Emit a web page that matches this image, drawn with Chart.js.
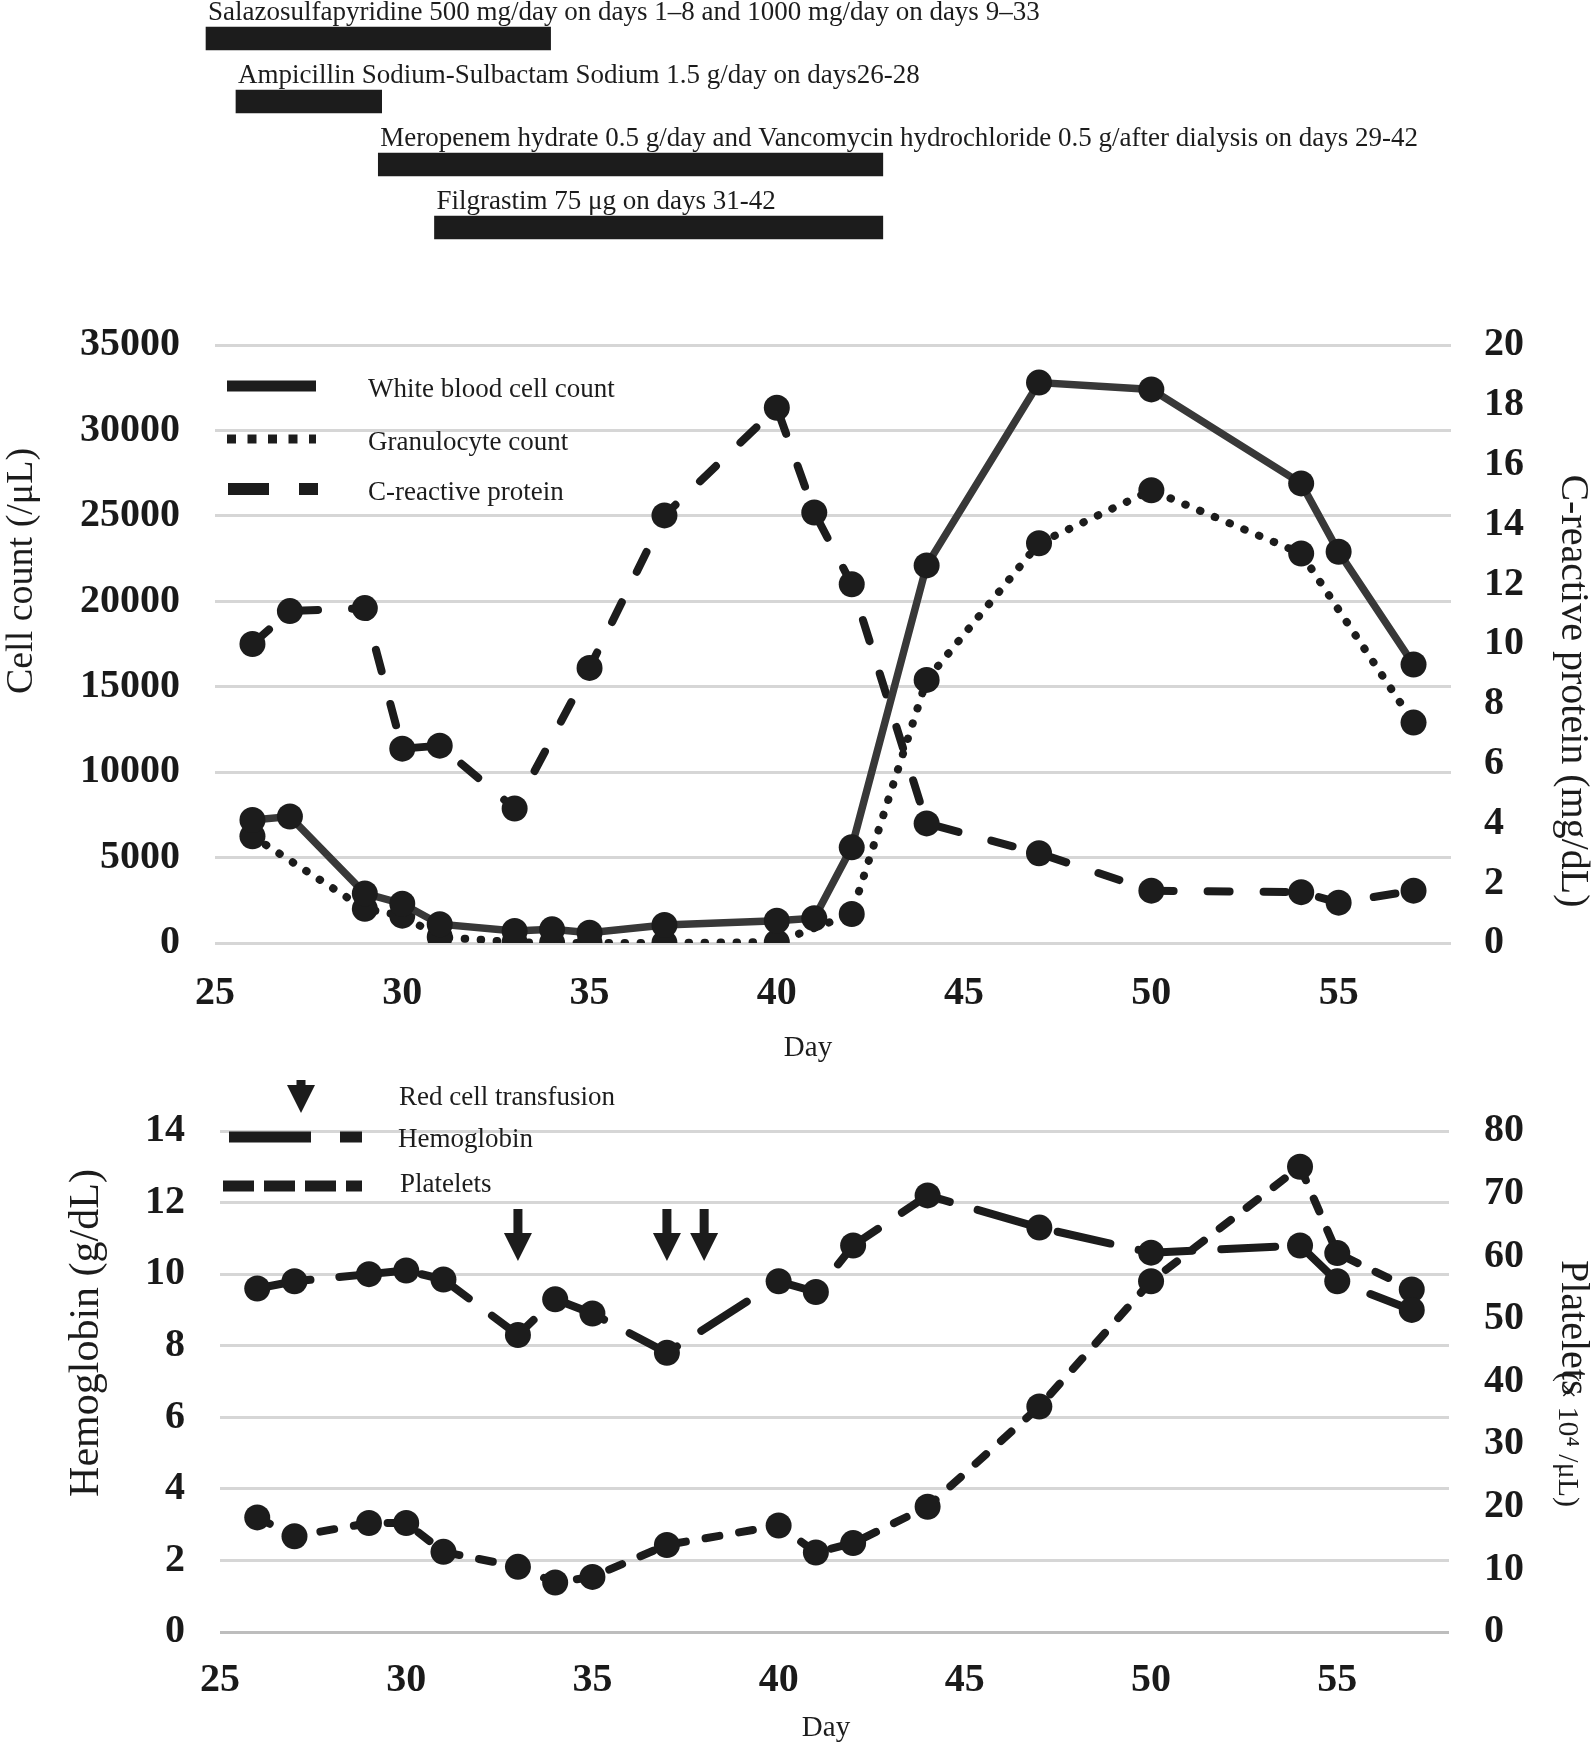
<!DOCTYPE html>
<html>
<head>
<meta charset="utf-8">
<script src="https://cdn.jsdelivr.net/npm/chart.js@4.4.1/dist/chart.umd.min.js"></script>
<style>
body { margin: 0; background: #fff; }
#wrap { position: relative; width: 1592px; height: 1748px; background: #fff; overflow: hidden; }
canvas { position: absolute; left: 0; }
</style>
</head>
<body>
<div id="wrap">
  <canvas id="drugs" width="1592" height="262" style="top:0px"></canvas>
  <canvas id="cells" width="1592" height="820" style="top:260px"></canvas>
  <canvas id="blood" width="1592" height="668" style="top:1080px"></canvas>
</div>
<script>
// ---- data ----
var drugLabels = [
    'Salazosulfapyridine 500 mg/day on days 1\u20138 and 1000 mg/day on days 9\u201333',
    'Ampicillin Sodium-Sulbactam Sodium 1.5 g/day on days26-28',
    'Meropenem hydrate 0.5 g/day and Vancomycin hydrochloride 0.5 g/after dialysis on days 29-42',
    'Filgrastim 75 \u03bcg on days 31-42'
];
var drugRanges = [[24.76, 33.96], [25.56, 29.45], [29.36, 42.83], [30.86, 42.83]];

var xTicks = [25, 30, 35, 40, 45, 50, 55];

var wbcDays = [26, 27, 29, 30, 31, 33, 34, 35, 37, 40, 41, 42, 44, 47, 50, 54, 55, 57];
var wbcCount = [7200, 7400, 2900, 2300, 1100, 700, 800, 600, 1050, 1300, 1450, 5600, 22100, 32800, 32400, 26900, 22900, 16300];

var granDays = [26, 29, 30, 31, 33, 34, 35, 37, 40, 42, 44, 47, 50, 54, 57];
var granCount = [6250, 2000, 1600, 350, 50, 0, 0, 0, 50, 1700, 15400, 23400, 26500, 22800, 12900];

var crpDays = [26, 27, 29, 30, 31, 33, 35, 37, 40, 41, 42, 44, 47, 50, 54, 55, 57];
var crpValues = [10.0, 11.1, 11.2, 6.5, 6.6, 4.5, 9.2, 14.3, 17.9, 14.4, 12.0, 4.0, 3.0, 1.75, 1.7, 1.35, 1.75];

var cellTicks = [0, 5000, 10000, 15000, 20000, 25000, 30000, 35000];
var crpTicks = [0, 2, 4, 6, 8, 10, 12, 14, 16, 18, 20];

var bloodDays = [26, 27, 29, 30, 31, 33, 34, 35, 37, 40, 41, 42, 44, 47, 50, 54, 55, 57];
var hemoglobin = [9.6, 9.8, 10.0, 10.1, 9.85, 8.3, 9.3, 8.9, 7.8, 9.8, 9.5, 10.8, 12.2, 11.3, 10.6, 10.8, 9.8, 9.0];
var platelets = [18.3, 15.3, 17.4, 17.4, 12.8, 10.4, 7.9, 8.8, 13.9, 17.0, 12.7, 14.2, 20.0, 36.0, 56.0, 74.3, 60.5, 54.7];

var hbTicks = [0, 2, 4, 6, 8, 10, 12, 14];
var pltTicks = [0, 10, 20, 30, 40, 50, 60, 70, 80];

var transfusionDays = [33, 37, 38];

// ---- helpers ----
var serif = "'Liberation Serif', 'Times New Roman', serif";
Chart.defaults.font.family = serif;
Chart.defaults.color = '#1a1a1a';

var ink = '#1c1c1c';
var tickFont = { size: 40, weight: 'bold', lineHeight: 1.2 };

function points(days, vals) {
    return days.map(function(d, i) { return { x: d, y: vals[i] }; });
}
function setTicks(list) {
    return function(scale) { scale.ticks = list.map(function(v) { return { value: v }; }); };
}
function fixWidth(w) { return function(scale) { scale.width = w; }; }
function fixHeight(h) { return function(scale) { scale.height = h; }; }
function plain(v) { return String(v); }

// vertical axis: label gap is made with an invisible tick mark so it does not push the plot down
function valueAxis(pos, max, list, width, gap, gridOpts) {
    var grid = Object.assign({ display: false }, gridOpts || {});
    grid.drawTicks = true;
    grid.tickLength = gap - 3;
    grid.tickColor = 'rgba(0,0,0,0)';
    return {
        position: pos, min: 0, max: max,
        afterBuildTicks: setTicks(list), afterFit: fixWidth(width),
        grid: grid, border: { display: false },
        ticks: { padding: 3, font: tickFont, autoSkip: false, callback: plain }
    };
}
function dayAxis(height, gap) {
    return {
        type: 'linear', min: 25, max: 58,
        afterBuildTicks: setTicks(xTicks), afterFit: fixHeight(height),
        grid: { display: false }, border: { display: false },
        ticks: { padding: gap, font: tickFont, maxRotation: 0, autoSkip: false, callback: plain }
    };
}

function text(ctx, str, x, y, size, rot, align, baseline) {
    ctx.save();
    ctx.font = size + 'px ' + serif;
    ctx.fillStyle = ink;
    ctx.textAlign = align || 'left';
    ctx.textBaseline = baseline || 'alphabetic';
    ctx.translate(x, y);
    if (rot) ctx.rotate(rot);
    ctx.fillText(str, 0, 0);
    ctx.restore();
}
function sample(ctx, x0, x1, y, width, dash) {
    ctx.save();
    ctx.strokeStyle = ink;
    ctx.lineWidth = width;
    ctx.lineCap = 'butt';
    ctx.setLineDash(dash);
    ctx.beginPath();
    ctx.moveTo(x0, y);
    ctx.lineTo(x1, y);
    ctx.stroke();
    ctx.restore();
}
function arrow(ctx, x, top, tip) {
    ctx.save();
    ctx.fillStyle = ink;
    ctx.fillRect(x - 4.5, top, 9, tip - top - 26);
    ctx.beginPath();
    ctx.moveTo(x - 14, tip - 28);
    ctx.lineTo(x + 14, tip - 28);
    ctx.lineTo(x, tip);
    ctx.closePath();
    ctx.fill();
    ctx.restore();
}

function lineSet(label, data, axis, color, width, dash) {
    return {
        label: label,
        data: data,
        yAxisID: axis,
        borderColor: color,
        borderWidth: width,
        borderDash: dash,
        borderCapStyle: 'round',
        tension: 0,
        pointRadius: 13,
        pointHoverRadius: 13,
        pointBorderWidth: 0,
        pointBackgroundColor: ink
    };
}

// ---- treatment bars ----
new Chart(document.getElementById('drugs').getContext('2d'), {
    type: 'bar',
    data: {
        labels: drugLabels,
        datasets: [{ data: drugRanges, backgroundColor: ink, barThickness: 23, clip: false }]
    },
    options: {
        indexAxis: 'y',
        responsive: false,
        animation: false,
        layout: { padding: { top: 7, left: 215, right: 141, bottom: 3 } },
        plugins: { legend: { display: false }, tooltip: { enabled: false } },
        scales: {
            x: { type: 'linear', min: 25, max: 58, display: false },
            y: { display: false }
        }
    },
    plugins: [{
        id: 'drugText',
        afterDatasetsDraw: function(chart) {
            var ctx = chart.ctx;
            chart.getDatasetMeta(0).data.forEach(function(bar, i) {
                var left = Math.min(bar.x, bar.base);
                text(ctx, drugLabels[i], left + 2, bar.y - bar.height / 2 - 7, 27);
            });
        }
    }]
});

// ---- cell counts / CRP ----
new Chart(document.getElementById('cells').getContext('2d'), {
    type: 'line',
    data: {
        datasets: [
            lineSet('White blood cell count', points(wbcDays, wbcCount), 'y', '#383838', 7.5, []),
            lineSet('Granulocyte count', points(granDays, granCount), 'y', ink, 8, [0.5, 15.5]),
            lineSet('C-reactive protein', points(crpDays, crpValues), 'y1', ink, 8, [22, 34])
        ]
    },
    options: {
        responsive: false,
        animation: false,
        layout: { padding: { top: 85, left: 0, right: 0, bottom: 0 } },
        plugins: { legend: { display: false }, tooltip: { enabled: false } },
        scales: {
            x: dayAxis(137, 19),
            y: valueAxis('left', 35000, cellTicks, 215, 35, { display: true, color: '#d6d6d6', lineWidth: 3 }),
            y1: valueAxis('right', 20, crpTicks, 141, 33)
        }
    },
    plugins: [{
        id: 'cellsText',
        afterDraw: function(chart) {
            var ctx = chart.ctx, a = chart.chartArea, off = 260;
            text(ctx, 'Cell count (/\u03bcL)', 22, 571 - off, 38, -Math.PI / 2, 'center', 'middle');
            text(ctx, 'C-reactive protein (mg/dL)', 1572, 691 - off, 40, Math.PI / 2, 'center', 'middle');
            text(ctx, 'Day', 808, 1048 - off, 29, 0, 'center', 'middle');
            // legend
            sample(ctx, a.left + 12, a.left + 101, a.top + 41, 11, []);
            sample(ctx, a.left + 12, a.left + 101, a.top + 94, 9, [9, 11.5]);
            sample(ctx, a.left + 13, a.left + 103, a.top + 144, 12, [41, 30]);
            text(ctx, 'White blood cell count', a.left + 153, a.top + 52, 27);
            text(ctx, 'Granulocyte count', a.left + 153, a.top + 105, 27);
            text(ctx, 'C-reactive protein', a.left + 153, a.top + 155, 27);
        }
    }]
});

// ---- hemoglobin / platelets ----
new Chart(document.getElementById('blood').getContext('2d'), {
    type: 'line',
    data: {
        datasets: [
            lineSet('Hemoglobin', points(bloodDays, hemoglobin), 'y', ink, 8, [54, 29]),
            lineSet('Platelets', points(bloodDays, platelets), 'y1', ink, 8, [14, 20])
        ]
    },
    options: {
        responsive: false,
        animation: false,
        layout: { padding: { top: 51, left: 0, right: 0, bottom: 0 } },
        plugins: { legend: { display: false }, tooltip: { enabled: false } },
        scales: {
            x: dayAxis(116, 17),
            y: valueAxis('left', 14, hbTicks, 220, 35, {
                display: true,
                color: function(c) { return c.tick && c.tick.value === 0 ? '#bdbdbd' : '#d6d6d6'; },
                lineWidth: 3
            }),
            y1: valueAxis('right', 80, pltTicks, 143, 35)
        }
    },
    plugins: [{
        id: 'bloodText',
        afterDraw: function(chart) {
            var ctx = chart.ctx, a = chart.chartArea, off = 1080;
            var xs = chart.scales.x;
            text(ctx, 'Hemoglobin (g/dL)', 87, 1333 - off, 42, -Math.PI / 2, 'center', 'middle');
            text(ctx, 'Platelets', 1572, 1260 - off, 40, Math.PI / 2, 'left', 'middle');
            text(ctx, '(\u00d7 10\u2074 /\u03bcL)', 1567, 1372 - off, 30, Math.PI / 2, 'left', 'middle');
            text(ctx, 'Day', 826, 1728 - off, 29, 0, 'center', 'middle');
            // legend
            arrow(ctx, a.left + 81, a.top - 69, a.top - 18);
            sample(ctx, a.left + 9, a.left + 142, a.top + 6, 11, [82, 29]);
            sample(ctx, a.left + 3, a.left + 142, a.top + 55, 11, [31, 10]);
            text(ctx, 'Red cell transfusion', a.left + 179, a.top - 26, 27);
            text(ctx, 'Hemoglobin', a.left + 178, a.top + 16, 27);
            text(ctx, 'Platelets', a.left + 180, a.top + 61, 27);
            // transfusion arrows
            transfusionDays.forEach(function(d) {
                arrow(ctx, xs.getPixelForValue(d), 1209 - off, 1261 - off);
            });
        }
    }]
});
</script>
</body>
</html>
